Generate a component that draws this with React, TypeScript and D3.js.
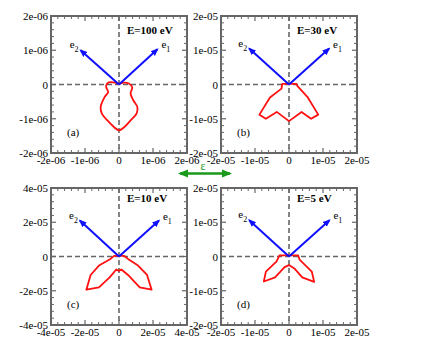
import React from "react";
import * as d3 from "d3";

// red curves, in units of 1e-6 (a) and 1e-5 (b, c, d)
const curveA = [[0, 0.02], [-0.1, 0.05], [-0.3, 0.06], [-0.38, -0.04], [-0.36, -0.12], [-0.32, -0.22], [-0.42, -0.36], [-0.54, -0.66], [-0.5, -0.86], [-0.34, -1.05], [-0.15, -1.24], [0, -1.34], [0.15, -1.25], [0.34, -1.05], [0.52, -0.84], [0.54, -0.66], [0.42, -0.46], [0.34, -0.26], [0.39, -0.09], [0.29, 0.03], [0.1, 0.05]];
const curveB = [[-0.2, 0.02], [0.22, 0.02], [0.25, -0.05], [0.54, -0.36], [0.86, -0.88], [0.65, -1.0], [0.37, -0.8], [0, -1.07], [-0.36, -0.8], [-0.68, -1.0], [-0.87, -0.88], [-0.56, -0.38], [-0.22, -0.12]];
const curveC = [[-0.29, 0.04], [0.29, 0.04], [0.53, -0.14], [1.12, -0.53], [1.65, -1.08], [1.92, -1.94], [1.22, -1.8], [0.53, -1.08], [0.14, -0.76], [0, -0.84], [-0.16, -0.76], [-0.55, -1.22], [-1.18, -1.8], [-1.92, -1.94], [-1.67, -1.08], [-1.18, -0.53], [-0.55, -0.18]];
const curveD = [[-0.28, 0.03], [0.27, 0.03], [0.31, -0.09], [0.67, -0.44], [0.74, -0.74], [0.39, -0.61], [0.17, -0.36], [0, -0.25], [-0.13, -0.31], [-0.41, -0.61], [-0.74, -0.73], [-0.68, -0.44], [-0.37, -0.15]];

// e1 / e2 arrow tips, same units
const arrowsA = [[1.13, 1.03], [-1.13, 1.0]];
const arrowsB = [[1.18, 1.05], [-1.17, 1.05]];
const arrowsC = [[2.35, 2.1], [-2.3, 2.1]];
const arrowsD = [[1.19, 1.06], [-1.17, 1.06]];

const energies = ["E=100 eV", "E=30 eV", "E=10 eV", "E=5 eV"];
const letters = ["(a)", "(b)", "(c)", "(d)"];
const limits = [2, 2, 4, 2];
const steps = [1, 1, 2, 1];
const units = [1e-6, 1e-5, 1e-5, 1e-5];

const FRAME = "#666";
const FONT = "'Liberation Serif', 'DejaVu Serif', serif";

function fmt(v: number, unit: number) {
  if (Math.abs(v) < 1e-9) return "0";
  const exp = Math.round(-Math.log10(unit));
  return `${v}e-${String(exp).padStart(2, "0")}`;
}

function Panel({ i, x0, y0, curve, arrows, smooth, textY }: any) {
  const w = 136, h = 137;
  const lim = limits[i], step = steps[i], unit = units[i];
  const x = d3.scaleLinear().domain([-lim, lim]).range([x0, x0 + w]);
  const y = d3.scaleLinear().domain([-lim, lim]).range([y0 + h, y0]);
  const majors = d3.range(-lim, lim + 1e-9, step);
  const minors = d3.range(-lim, lim + 1e-9, step / 5).filter(v => Math.abs(v / step - Math.round(v / step)) > 1e-6);
  const line = d3.line<number[]>()
    .x(d => x(d[0]))
    .y(d => y(d[1]))
    .curve(smooth ? d3.curveCatmullRomClosed.alpha(0.5) : d3.curveLinearClosed);
  const ox = x(0), oy = y(0);
  const mk = `ah${i}`;
  return (
    <g>
      <defs>
        <marker id={mk} viewBox="0 0 10 10" refX="8" refY="5" markerWidth="4" markerHeight="4" orient="auto">
          <path d="M0,1 L10,5 L0,9 Z" fill="#1010ff" />
        </marker>
      </defs>
      {/* zero lines */}
      <line x1={x0} x2={x0 + w} y1={oy} y2={oy} stroke={FRAME} strokeWidth={1.6} strokeDasharray="5,3" />
      <line x1={ox} x2={ox} y1={y0} y2={y0 + h} stroke={FRAME} strokeWidth={1.6} strokeDasharray="5,3" />
      {/* ticks */}
      {majors.map(v => (
        <g key={"M" + v}>
          <line x1={x(v)} x2={x(v)} y1={y0 + h} y2={y0 + h - 5} stroke={FRAME} strokeWidth={1.2} />
          <line x1={x(v)} x2={x(v)} y1={y0} y2={y0 + 5} stroke={FRAME} strokeWidth={1.2} />
          <line x1={x0} x2={x0 + 5} y1={y(v)} y2={y(v)} stroke={FRAME} strokeWidth={1.2} />
          <line x1={x0 + w} x2={x0 + w - 5} y1={y(v)} y2={y(v)} stroke={FRAME} strokeWidth={1.2} />
          <text x={x(v)} y={y0 + h + 11} textAnchor="middle" fontSize={11} fontFamily={FONT}>{fmt(v, unit)}</text>
          <text x={x0 - 3} y={y(v) + 4} textAnchor="end" fontSize={11} fontFamily={FONT}>{fmt(v, unit)}</text>
        </g>
      ))}
      {minors.map(v => (
        <g key={"m" + v}>
          <line x1={x(v)} x2={x(v)} y1={y0 + h} y2={y0 + h - 3} stroke={FRAME} strokeWidth={1} />
          <line x1={x(v)} x2={x(v)} y1={y0} y2={y0 + 3} stroke={FRAME} strokeWidth={1} />
          <line x1={x0} x2={x0 + 3} y1={y(v)} y2={y(v)} stroke={FRAME} strokeWidth={1} />
          <line x1={x0 + w} x2={x0 + w - 3} y1={y(v)} y2={y(v)} stroke={FRAME} strokeWidth={1} />
        </g>
      ))}
      <rect x={x0} y={y0} width={w} height={h} fill="none" stroke={FRAME} strokeWidth={2} />
      {/* red curve */}
      <path d={line(curve) || ""} fill="none" stroke="#ff1010" strokeWidth={1.8} strokeLinejoin="round" />
      {/* e1, e2 */}
      {arrows.map((a: number[], k: number) => (
        <line key={k} x1={ox} y1={oy} x2={x(a[0])} y2={y(a[1])} stroke="#1010ff" strokeWidth={2} markerEnd={`url(#${mk})`} />
      ))}
      <text x={x(arrows[0][0]) + 4} y={y(arrows[0][1]) - 1} fontSize={11} fontFamily={FONT}>
        e<tspan fontSize={8} dy={4}>1</tspan>
      </text>
      <text x={x(arrows[1][0]) - 2} y={y(arrows[1][1]) - 2} fontSize={11} fontFamily={FONT} textAnchor="end">
        e<tspan fontSize={8} dy={4}>2</tspan>
      </text>
      <text x={x0 + 76} y={y0 + textY} fontSize={11} fontWeight="bold" fontFamily={FONT}>{energies[i]}</text>
      <text x={x0 + 16} y={y0 + 120} fontSize={11} fontFamily={FONT}>{letters[i]}</text>
    </g>
  );
}

export default function App() {
  return (
    <svg width={440} height={340} style={{ position: "absolute", left: 0, top: 0, background: "#fff" }}>
      <defs>
        <marker id="gh" viewBox="0 0 10 10" refX="8" refY="5" markerWidth="4" markerHeight="4" orient="auto-start-reverse">
          <path d="M0,1 L10,5 L0,9 Z" fill="#1a9a1a" />
        </marker>
      </defs>
      <Panel i={0} x0={51} y0={16} curve={curveA} arrows={arrowsA} smooth textY={18} />
      <Panel i={1} x0={221} y0={16} curve={curveB} arrows={arrowsB} textY={18} />
      <Panel i={2} x0={51} y0={188} curve={curveC} arrows={arrowsC} textY={14} />
      <Panel i={3} x0={221} y0={188} curve={curveD} arrows={arrowsD} textY={14} />
      <line x1={180} x2={230} y1={173.5} y2={173.5} stroke="#1a9a1a" strokeWidth={2.5}
        markerStart="url(#gh)" markerEnd="url(#gh)" />
      <text x={203} y={170} textAnchor="middle" fontSize={12} fill="#1a9a1a" fontFamily={FONT}>ε</text>
    </svg>
  );
}
